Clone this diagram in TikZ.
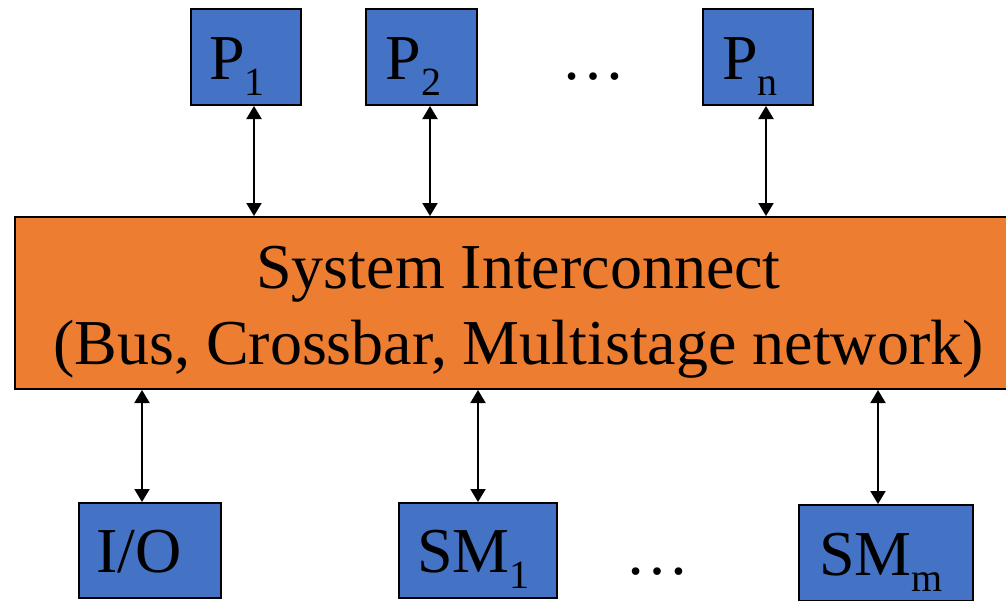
\documentclass[tikz,border=0pt]{standalone}
\usepackage{fontspec}
\setmainfont{Liberation Serif}
\usetikzlibrary{arrows.meta}
\definecolor{boxblue}{HTML}{4472C4}
\definecolor{busorange}{HTML}{ED7D31}
\newcommand{\lowidx}[1]{\raisebox{-16pt}{\fontsize{40}{40}\selectfont #1}}
\tikzset{
unit/.style={ % processors, memories and I/O
draw, line width=2pt,
fill=boxblue,
minimum height=96pt, inner sep=0pt,
text height=44pt, text depth=0pt,
font=\fontsize{64}{64}\selectfont},
nudge/.style={execute at end node={\hspace*{#1}}}, % pulls the label a bit to the left
bus/.style={ % the interconnect
draw, line width=2pt,
fill=busorange,
minimum width=1007pt, minimum height=172pt,
text height=130pt, text depth=8pt,
align=center,
font=\fontsize{64}{76}\selectfont},
gap/.style={font=\fontsize{64}{64}\selectfont, anchor=base, inner sep=0pt},
link/.style={ % two-way connections
line width=2pt,
{Triangle[width=15pt,length=13pt]}-{Triangle[width=15pt,length=13pt]}}}

\begin{document}
\begin{tikzpicture}[x=1pt, y=-1pt]
\useasboundingbox (0,0) rectangle (1006,600);
\node[bus] (bus) at (518.5,303) {System Interconnect\\(Bus, Crossbar, Multistage network)};
\node[unit, minimum width=110pt, nudge=18pt] (p1) at (246,57) {P\lowidx{1}};
\node[unit, minimum width=111pt, nudge=16pt] (p2) at (421.5,57) {P\lowidx{2}};
\node[unit, minimum width=110pt, nudge=16pt] (pn) at (758,57) {P\lowidx{n}};
\node[gap] (pdots) at (593,79) {…};
\node[unit, minimum width=142pt, minimum height=95pt, nudge=22pt] (io) at (150,550.5) {I/O};
\node[unit, minimum width=158pt, minimum height=95pt, nudge=9pt] (sm1) at (478,550.5) {SM\lowidx{1}};
\node[unit, minimum width=174pt, nudge=10pt] (smm) at (886,553) {SM\lowidx{m}};
\node[gap] (smdots) at (657,574) {…};
\draw[link] ([xshift=8pt]p1.south) -- ([xshift=8pt]p1.south |- bus.north);
\draw[link] ([xshift=8.5pt]p2.south) -- ([xshift=8.5pt]p2.south |- bus.north);
\draw[link] ([xshift=8pt]pn.south) -- ([xshift=8pt]pn.south |- bus.north);
\draw[link] ([xshift=-8pt]io.north) -- ([xshift=-8pt]io.north |- bus.south);
\draw[link] (sm1.north) -- (sm1.north |- bus.south);
\draw[link] ([xshift=-8pt]smm.north) -- ([xshift=-8pt]smm.north |- bus.south);
\end{tikzpicture}
\end{document}
